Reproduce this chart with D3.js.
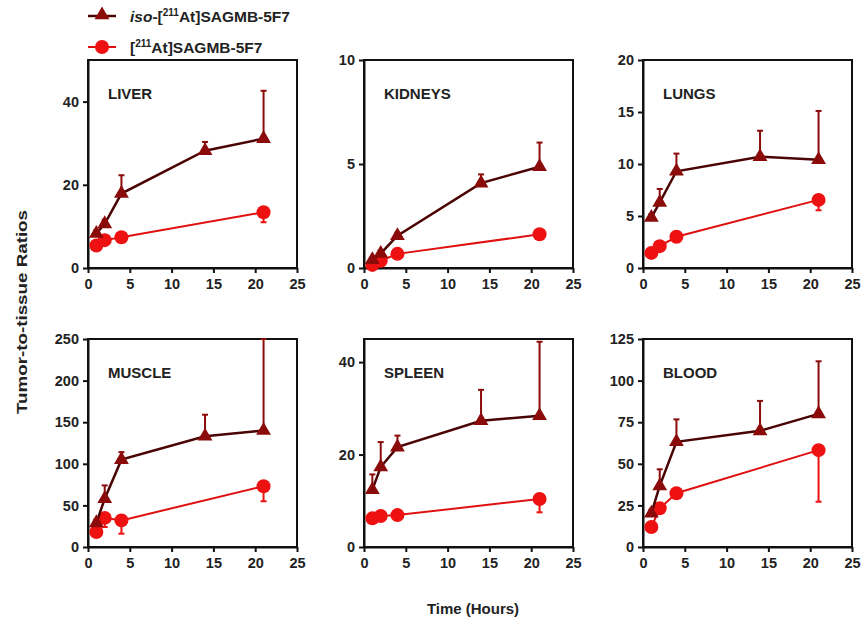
<!DOCTYPE html>
<html>
<head>
<meta charset="utf-8">
<script src="https://cdn.jsdelivr.net/npm/d3@7"></script>
<style>
  body { margin: 0; background: #fff; }
  text { font-family: "Liberation Sans", Arial, sans-serif; fill: #222; }
  .axis path, .axis line { stroke: #111; stroke-width: 2; }
  .axis text { font-size: 14.5px; font-weight: bold; }
</style>
</head>
<body>
<div id="chart"></div>
<script>
// tissues, one panel each
const tissues = ["LIVER", "KIDNEYS", "LUNGS", "MUSCLE", "SPLEEN", "BLOOD"];
const yMax = [50, 10, 20, 250, 45, 125];
const yTicks = [
    [0, 20, 40],
    [0, 5, 10],
    [0, 5, 10, 15, 20],
    [0, 50, 100, 150, 200, 250],
    [0, 20, 40],
    [0, 25, 50, 75, 100, 125]
];
const xTicks = [0, 5, 10, 15, 20, 25];

// iso-[211At]SAGMB-5F7
const isoTimes = [1, 2, 4, 14, 21];
const isoValues = [
    [8.3, 10.6, 17.9, 28.2, 31.1],
    [0.4, 0.7, 1.55, 4.08, 4.87],
    [4.85, 6.3, 9.3, 10.7, 10.4],
    [29, 58, 105, 133, 140],
    [12.4, 17.3, 21.6, 27.3, 28.4],
    [20.3, 36.7, 63.2, 69.8, 80]
];
const isoErrors = [
    [0.8, 1.0, 4.4, 2.1, 11.5],
    [0.1, 0.15, 0.15, 0.42, 1.16],
    [0.3, 1.3, 1.7, 2.5, 4.7],
    [4, 16, 9, 26, 120],
    [3.3, 5.4, 2.5, 6.7, 16],
    [2, 10, 13.5, 18, 31.6]
];

// [211At]SAGMB-5F7
const stdTimes = [1, 2, 4, 21];
const stdValues = [
    [5.4, 6.7, 7.4, 13.4],
    [0.15, 0.35, 0.68, 1.62],
    [1.45, 2.1, 3.0, 6.55],
    [18, 35, 32, 73],
    [6.2, 6.7, 6.9, 10.4],
    [12, 23.3, 32.3, 58.2]
];
const stdErrors = [
    [0.5, 0.6, 0.5, 2.4],
    [0.05, 0.08, 0.1, 0.15],
    [0.2, 0.3, 0.45, 1.0],
    [3, 11, 16, 18],
    [0.4, 0.4, 0.4, 2.9],
    [1.5, 2, 2, 31]
];

const isoColor = "#8b0a0a", isoLine = "#4a0404";
const stdColor = "#ee1111", stdLine = "#e01010";

const width = 864, height = 628;
const colX = [88, 364, 643];
const rowY = [60, 339];
const pw = 209, ph = 208;

const svg = d3.select("#chart").append("svg")
    .attr("width", width)
    .attr("height", height);

const tri = d3.symbol().type(d3.symbolTriangle).size(95);

tissues.forEach((name, i) => {
    const g = svg.append("g")
        .attr("transform", `translate(${colX[i % 3]},${rowY[Math.floor(i / 3)]})`);

    const x = d3.scaleLinear().domain([0, 25]).range([0, pw]);
    const y = d3.scaleLinear().domain([0, yMax[i]]).range([ph, 0]).clamp(true);

    // frame
    g.append("rect")
        .attr("width", pw).attr("height", ph)
        .attr("fill", "none").attr("stroke", "#111").attr("stroke-width", 2);

    g.append("g").attr("class", "axis")
        .attr("transform", `translate(0,${ph})`)
        .call(d3.axisBottom(x).tickValues(xTicks).tickSize(5).tickSizeOuter(0).tickPadding(6));
    g.append("g").attr("class", "axis")
        .call(d3.axisLeft(y).tickValues(yTicks[i]).tickSize(5).tickSizeOuter(0).tickPadding(4));

    g.append("text")
        .attr("x", 20).attr("y", 39)
        .style("font-size", "15px").style("font-weight", "bold")
        .text(name);

    const iso = isoTimes.map((t, j) => ({t, v: isoValues[i][j], e: isoErrors[i][j]}));
    const std = stdTimes.map((t, j) => ({t, v: stdValues[i][j], e: stdErrors[i][j]}));

    // error bars: iso upward, std downward
    const bars = (data, dir, color) => {
        const eg = g.append("g").attr("stroke", color).attr("stroke-width", 2);
        data.forEach(d => {
            const y1 = y(d.v + dir * d.e);
            eg.append("line").attr("x1", x(d.t)).attr("x2", x(d.t))
                .attr("y1", y(d.v)).attr("y2", y1);
            eg.append("line").attr("x1", x(d.t) - 3).attr("x2", x(d.t) + 3)
                .attr("y1", y1).attr("y2", y1);
        });
    };
    bars(iso, 1, isoColor);
    bars(std, -1, stdColor);

    const line = d3.line().x(d => x(d.t)).y(d => y(d.v));

    g.append("path").datum(std)
        .attr("d", line).attr("fill", "none")
        .attr("stroke", stdLine).attr("stroke-width", 2);
    g.selectAll(".std").data(std).enter().append("circle")
        .attr("cx", d => x(d.t)).attr("cy", d => y(d.v))
        .attr("r", 7).attr("fill", stdColor);

    g.append("path").datum(iso)
        .attr("d", line).attr("fill", "none")
        .attr("stroke", isoLine).attr("stroke-width", 2.5);
    g.selectAll(".iso").data(iso).enter().append("path")
        .attr("d", tri)
        .attr("transform", d => `translate(${x(d.t)},${y(d.v)})`)
        .attr("fill", isoColor);
});

// axis titles
svg.append("text")
    .attr("transform", "translate(27,312) rotate(-90)")
    .attr("text-anchor", "middle")
    .attr("textLength", 204).attr("lengthAdjust", "spacingAndGlyphs")
    .style("font-size", "15px").style("font-weight", "bold")
    .text("Tumor-to-tissue Ratios");

svg.append("text")
    .attr("x", 473).attr("y", 614)
    .attr("text-anchor", "middle")
    .style("font-size", "15px").style("font-weight", "bold")
    .text("Time (Hours)");

// legend
const leg = svg.append("g");
leg.append("line").attr("x1", 88).attr("x2", 116).attr("y1", 16).attr("y2", 16)
    .attr("stroke", isoLine).attr("stroke-width", 2.5);
leg.append("path").attr("d", tri).attr("transform", "translate(102,15)").attr("fill", isoColor);
const t1 = leg.append("text").attr("x", 130).attr("y", 22)
    .style("font-size", "15.5px").style("font-weight", "bold");
t1.append("tspan").style("font-style", "italic").text("iso");
t1.append("tspan").text("-[");
t1.append("tspan").attr("dy", -6).style("font-size", "10px").text("211");
t1.append("tspan").attr("dy", 6).text("At]SAGMB-5F7");

leg.append("line").attr("x1", 88).attr("x2", 116).attr("y1", 47).attr("y2", 47)
    .attr("stroke", stdLine).attr("stroke-width", 2);
leg.append("circle").attr("cx", 102).attr("cy", 47).attr("r", 7).attr("fill", stdColor);
const t2 = leg.append("text").attr("x", 130).attr("y", 53)
    .style("font-size", "15.5px").style("font-weight", "bold");
t2.append("tspan").text("[");
t2.append("tspan").attr("dy", -6).style("font-size", "10px").text("211");
t2.append("tspan").attr("dy", 6).text("At]SAGMB-5F7");
</script>
</body>
</html>
